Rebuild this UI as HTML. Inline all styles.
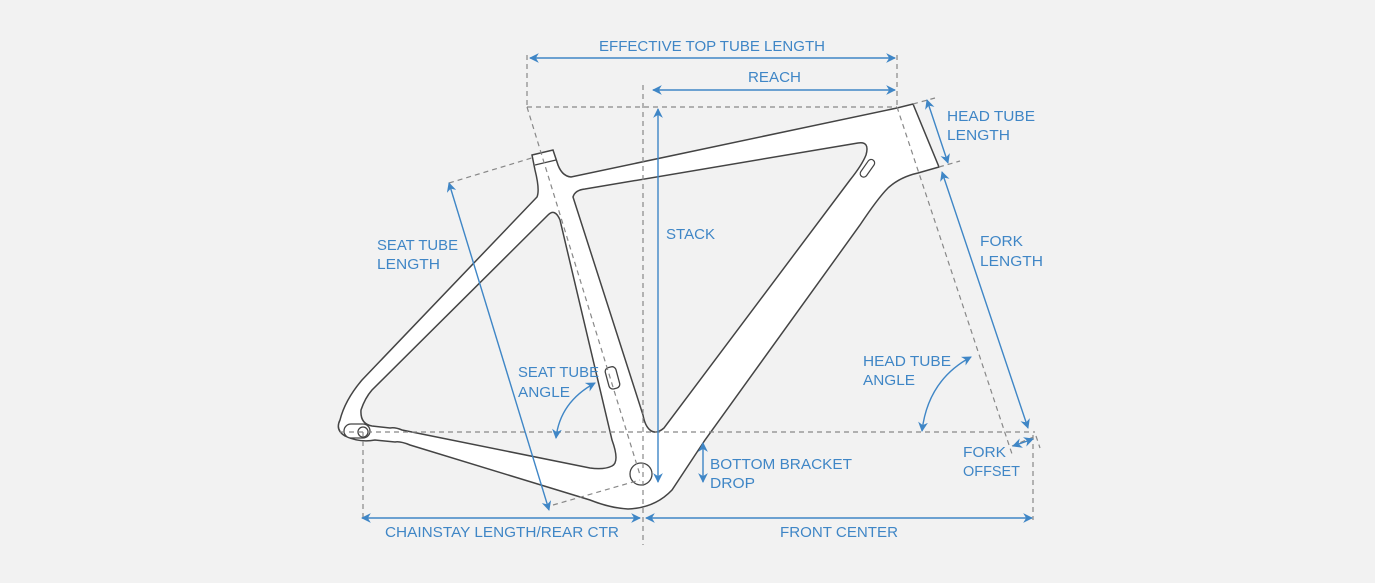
<!DOCTYPE html>
<html><head><meta charset="utf-8"><style>
html,body{margin:0;padding:0;background:#f2f2f2;}
svg{display:block}
text{font-family:"Liberation Sans",sans-serif;font-size:15px;fill:#3f86c6;}
</style></head><body>
<svg width="1375" height="583" viewBox="0 0 1375 583" xmlns="http://www.w3.org/2000/svg">
<defs>
<marker id="a" viewBox="0 0 10 10" refX="9" refY="5" markerWidth="7" markerHeight="7" orient="auto-start-reverse"><path d="M0,0 L10,5 L0,10 L3,5 z" fill="#3f86c6"/></marker>
</defs>
<rect width="1375" height="583" fill="#f2f2f2"/>

<!-- frame -->
<path d="M532,155 L553,150 L557,162 Q561,176 571,177 L897,108 L913,104 L939,167 L918,173 Q900,177 888,188 Q878,198 860,225 L705,440 L672,490 Q655,508 628,509 Q610,508 590,500 L410,445 Q400,441 395,442 L375,440 Q360,443 345,436 Q335,430 340,420 Q345,400 362,380 L537,197 Q540,190 535,170 Z" fill="#fff" stroke="#444" stroke-width="1.5"/>
<!-- rear triangle hole -->
<path d="M548,215 Q555,208 560,220 L612,440 Q620,462 612,466 Q604,470 590,468 L402,430 Q395,427 390,428 L372,426 Q360,424 361,410 Q365,398 372,390 Z" fill="#f2f2f2" stroke="#444" stroke-width="1.5"/>
<!-- main triangle hole -->
<path d="M573,197 Q575,190 585,189 L858,143 Q870,141 866,155 Q862,165 850,180 L664,428 Q656,435 650,430 Q645,426 643,415 Z" fill="#f2f2f2" stroke="#444" stroke-width="1.5"/>
<!-- seat cap -->
<path d="M535,165 L556,160" stroke="#444" stroke-width="1.2" fill="none"/>
<!-- dropout slot -->
<rect x="344" y="424" width="26" height="14" rx="7" fill="#fff" stroke="#444" stroke-width="1.3"/>
<circle cx="363" cy="432" r="5" fill="#fff" stroke="#444" stroke-width="1.3"/>
<!-- BB -->
<circle cx="641" cy="474" r="11" fill="#fff" stroke="#444" stroke-width="1.3"/>
<!-- bottle mount -->
<rect x="607" y="367" width="11" height="22" rx="4" transform="rotate(-15 612 378)" fill="#fff" stroke="#444" stroke-width="1.3"/>
<rect x="864" y="158" width="7" height="20" rx="3.5" transform="rotate(35 867 168)" fill="#fff" stroke="#444" stroke-width="1.2"/>

<!-- dashed guides -->
<g stroke="#888" stroke-width="1.2" stroke-dasharray="5,4" fill="none">
<line x1="340" y1="432" x2="1035" y2="432"/>
<line x1="643" y1="85" x2="643" y2="545"/>
<line x1="527" y1="107" x2="897" y2="107"/>
<line x1="527" y1="55" x2="527" y2="107"/>
<line x1="897" y1="55" x2="897" y2="107"/>
<line x1="527" y1="107" x2="640" y2="475"/>
<line x1="449" y1="183" x2="535" y2="157"/>
<line x1="553" y1="505" x2="640" y2="480"/>
<line x1="897" y1="107" x2="1013" y2="457"/>
<line x1="913" y1="104" x2="935" y2="98"/>
<line x1="939" y1="167" x2="960" y2="161"/>
<line x1="1012" y1="446" x2="1036" y2="436"/>
<line x1="1033" y1="435" x2="1033" y2="520"/>
<line x1="1036" y1="436" x2="1040" y2="448"/>
<line x1="363" y1="432" x2="363" y2="520"/>
</g>

<!-- dimension arrows -->
<g stroke="#3f86c6" stroke-width="1.4" fill="none" marker-start="url(#a)" marker-end="url(#a)">
<line x1="530" y1="58" x2="895" y2="58"/>
<line x1="653" y1="90" x2="895" y2="90"/>
<line x1="658" y1="109" x2="658" y2="482"/>
<line x1="449" y1="183" x2="549" y2="510"/>
<line x1="927" y1="100" x2="948" y2="163"/>
<line x1="942" y1="172" x2="1028" y2="428"/>
<line x1="703" y1="443" x2="703" y2="482"/>
<line x1="362" y1="518" x2="640" y2="518"/>
<line x1="646" y1="518" x2="1032" y2="518"/>
<line x1="1013" y1="446" x2="1033" y2="439"/>
<path d="M556,438 Q560,402 595,383"/>
<path d="M922,431 Q928,380 971,357"/>
</g>

<!-- labels -->
<text x="599" y="51" textLength="226" lengthAdjust="spacingAndGlyphs">EFFECTIVE TOP TUBE LENGTH</text>
<text x="748" y="82" textLength="53" lengthAdjust="spacingAndGlyphs">REACH</text>
<text x="666" y="239" textLength="49" lengthAdjust="spacingAndGlyphs">STACK</text>
<text x="377" y="250" textLength="81" lengthAdjust="spacingAndGlyphs">SEAT TUBE</text>
<text x="377" y="269" textLength="63" lengthAdjust="spacingAndGlyphs">LENGTH</text>
<text x="518" y="377" textLength="81" lengthAdjust="spacingAndGlyphs">SEAT TUBE</text>
<text x="518" y="397" textLength="52" lengthAdjust="spacingAndGlyphs">ANGLE</text>
<text x="947" y="121" textLength="88" lengthAdjust="spacingAndGlyphs">HEAD TUBE</text>
<text x="947" y="140" textLength="63" lengthAdjust="spacingAndGlyphs">LENGTH</text>
<text x="980" y="246" textLength="43" lengthAdjust="spacingAndGlyphs">FORK</text>
<text x="980" y="266" textLength="63" lengthAdjust="spacingAndGlyphs">LENGTH</text>
<text x="863" y="366" textLength="88" lengthAdjust="spacingAndGlyphs">HEAD TUBE</text>
<text x="863" y="385" textLength="52" lengthAdjust="spacingAndGlyphs">ANGLE</text>
<text x="963" y="457" textLength="43" lengthAdjust="spacingAndGlyphs">FORK</text>
<text x="963" y="476" textLength="57" lengthAdjust="spacingAndGlyphs">OFFSET</text>
<text x="710" y="469" textLength="142" lengthAdjust="spacingAndGlyphs">BOTTOM BRACKET</text>
<text x="710" y="488" textLength="45" lengthAdjust="spacingAndGlyphs">DROP</text>
<text x="385" y="537" textLength="234" lengthAdjust="spacingAndGlyphs">CHAINSTAY LENGTH/REAR CTR</text>
<text x="780" y="537" textLength="118" lengthAdjust="spacingAndGlyphs">FRONT CENTER</text>
</svg>
</body></html>
